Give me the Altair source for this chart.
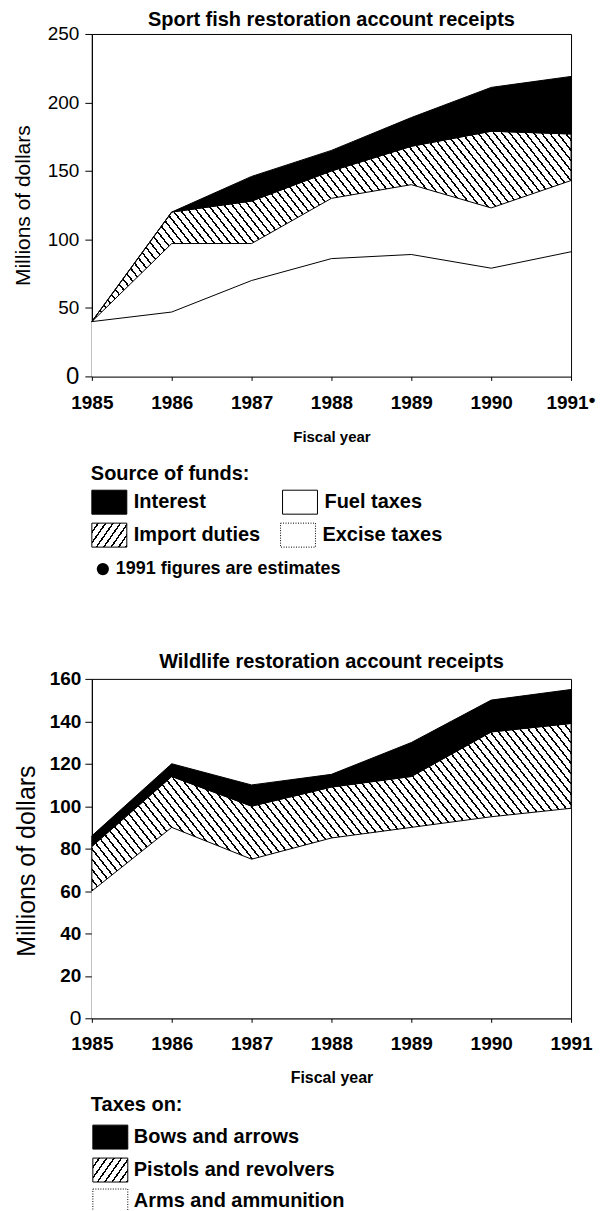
import math
import altair as alt
import pandas as pd

FONT = "Liberation Sans"

# ---------------- data (millions of dollars) ----------------
years = [1985, 1986, 1987, 1988, 1989, 1990, 1991]

# Sport fish restoration account receipts (stack order bottom -> top)
sf_series = ["Excise taxes", "Fuel taxes", "Import duties", "Interest"]
sf_excise = [40, 47, 70, 86, 89, 79, 91]
sf_fuel = [0, 50, 27, 44, 51, 44, 52]
sf_import = [0, 23, 31, 20, 28, 56, 34]
sf_interest = [0, 0, 18, 15, 21, 32, 42]
sf_ticks = [0, 50, 100, 150, 200, 250]

# Wildlife restoration account receipts (stack order bottom -> top)
wl_series = ["Arms and ammunition", "Pistols and revolvers", "Bows and arrows"]
wl_arms = [60, 90, 75, 85, 90, 95, 99]
wl_pistols = [21, 24, 25, 24, 24, 40, 40]
wl_bows = [5, 6, 10, 6, 16, 15, 16]
wl_ticks = [0, 20, 40, 60, 80, 100, 120, 140, 160]

sf_title = "Sport fish restoration account receipts"
wl_title = "Wildlife restoration account receipts"
y_title = "Millions of dollars"
x_title = "Fiscal year"

sf_legend_title = "Source of funds:"
sf_legend_labels = ["Interest", "Fuel taxes", "Import duties", "Excise taxes"]
sf_legend_kinds = ["solid", "open", "hatch", "dotted"]
sf_note = "1991 figures are estimates"

wl_legend_title = "Taxes on:"
wl_legend_labels = ["Bows and arrows", "Pistols and revolvers", "Arms and ammunition"]
wl_legend_kinds = ["solid", "hatch", "dotted"]

# ---------------- helpers ----------------
W = 480
H1 = 343
H2 = 340


def stack(names, lists):
    rows = []
    base = [0] * len(years)
    for name, vals in zip(names, lists):
        for i, yr in enumerate(years):
            rows.append(dict(series=name, year=yr, base=base[i], top=base[i] + vals[i]))
        base = [b + v for b, v in zip(base, vals)]
    return pd.DataFrame(rows)


def hatch_fill(w, h, angle, spacing, thick):
    th = math.radians(angle)
    dx, dy = math.cos(th), math.sin(th)
    nx, ny = -dy, dx
    corners = [(0.0, 0.0), (1.0, 0.0), (0.0, 1.0), (1.0, 1.0)]
    s = [u * w * nx + v * h * ny for u, v in corners]
    smin, smax = min(s), max(s)
    R = smax - smin
    a, b = w * nx / R, h * ny / R
    g2 = a * a + b * b
    gx, gy = a / g2, b / g2
    u0, v0 = corners[s.index(smin)]
    period = spacing * abs(math.sin(th))
    n = max(1, round(R / period))
    f = min(0.9, thick / period)
    stops = []
    for k in range(n):
        o0 = round(k / n, 5)
        o1 = round((k + 1 - f) / n, 5)
        o2 = round((k + 1) / n, 5)
        stops += [
            {"offset": o0, "color": "white"},
            {"offset": o1, "color": "white"},
            {"offset": o1, "color": "black"},
            {"offset": o2, "color": "black"},
        ]
    return {"gradient": "linear", "x1": u0, "y1": v0, "x2": u0 + gx, "y2": v0 + gy,
            "stops": stops}


def xenc(fs, lpad, tpad, last_shift=0):
    return alt.X(
        "year:Q",
        scale=alt.Scale(domain=[1985, 1991], nice=False, zero=False),
        axis=alt.Axis(values=years, format="d", title=x_title, labelFlush=False,
                      labelFontSize=19, labelFontWeight="bold", tickSize=4,
                      labelOffset={"condition": {"test": "datum.value === 1991", "value": last_shift},
                                   "value": 0},
                      labelPadding=lpad, titleFontSize=fs, titleFontWeight="bold",
                      titlePadding=tpad, labelFont=FONT, titleFont=FONT),
    )


# ---------------- top chart ----------------
sf = stack(sf_series, [sf_excise, sf_fuel, sf_import, sf_interest])
x_top = xenc(15, 13, 17, last_shift=-4)
y_top = alt.Y(
    "top:Q",
    scale=alt.Scale(domain=[0, 250], nice=False),
    axis=alt.Axis(values=sf_ticks, title=y_title, tickSize=7, labelPadding=6,
                  labelFontSize={"condition": {"test": "datum.value === 0", "value": 24}, "value": 19},
                  labelFontWeight="normal", titleFontSize=21, titleFontWeight="normal",
                  titlePadding=14, labelFont=FONT, titleFont=FONT),
)
imp = sf[sf.series == "Import duties"]
imp_h = (imp.top.max() - imp.base.min()) * H1 / 250
sf_hatch = hatch_fill(W, imp_h, 52, 8, 1.5)

base_top = alt.Chart(sf).encode(x=x_top, y=y_top, y2="base:Q")
top_layers = [
    base_top.transform_filter(alt.datum.series == "Excise taxes").mark_area(fill="white"),
    base_top.transform_filter(alt.datum.series == "Fuel taxes").mark_area(fill="white"),
    base_top.transform_filter(alt.datum.series == "Import duties").mark_area(
        fill=sf_hatch, stroke="black", strokeWidth=1),
    base_top.transform_filter(alt.datum.series == "Interest").mark_area(
        fill="black", stroke="black", strokeWidth=1),
    alt.Chart(sf).transform_filter(alt.datum.series == "Excise taxes").mark_line(
        color="black", strokeWidth=1).encode(x=x_top, y=y_top),
    alt.Chart(pd.DataFrame({"year": [1991], "top": [0]})).mark_text(
        text="•", dx=21, dy=24, fontSize=19, fontWeight="bold", font=FONT,
        color="black").encode(x=x_top, y=y_top),
]
top_chart = alt.layer(*top_layers).properties(
    width=W, height=H1,
    title=alt.TitleParams(sf_title, fontSize=20, fontWeight="bold", font=FONT, offset=-5),
)

# ---------------- bottom chart ----------------
wl = stack(wl_series, [wl_arms, wl_pistols, wl_bows])
x_bot = xenc(16, 12, 16)
y_bot = alt.Y(
    "top:Q",
    scale=alt.Scale(domain=[0, 160], nice=False),
    axis=alt.Axis(values=wl_ticks, title=y_title, tickSize=7, labelPadding=4,
                  labelFontSize={"condition": {"test": "datum.value === 0", "value": 21}, "value": 19},
                  labelFontWeight={"condition": {"test": "datum.value === 0", "value": "normal"}, "value": "bold"},
                  titleFontSize=25, titleFontWeight="normal", titlePadding=10,
                  titleY=H2 / 2 + 12,
                  labelFont=FONT, titleFont=FONT),
)
pis = wl[wl.series == "Pistols and revolvers"]
pis_h = (pis.top.max() - pis.base.min()) * H2 / 160
wl_hatch = hatch_fill(W, pis_h, 52, 8, 1.5)

base_bot = alt.Chart(wl).encode(x=x_bot, y=y_bot, y2="base:Q")
bot_layers = [
    base_bot.transform_filter(alt.datum.series == "Arms and ammunition").mark_area(fill="white"),
    base_bot.transform_filter(alt.datum.series == "Pistols and revolvers").mark_area(
        fill=wl_hatch, stroke="black", strokeWidth=1),
    base_bot.transform_filter(alt.datum.series == "Bows and arrows").mark_area(
        fill="black", stroke="black", strokeWidth=1),
]
bot_chart = alt.layer(*bot_layers).properties(
    width=W, height=H2,
    title=alt.TitleParams(wl_title, fontSize=20, fontWeight="bold", font=FONT, offset=-2),
)

# ---------------- legends ----------------
SW_W, SW_H = 35, 24


def legend_view(title, title_y, labels, kinds, cols, rows, text_dx, height,
                note=None, note_y=None):
    sw = []
    for lab, kind, c, r in zip(labels, kinds, cols, rows):
        sw.append(dict(label=lab, kind=kind, x=c, x2=c + SW_W, y=r - SW_H / 2,
                       y2=r + SW_H / 2, tx=c + text_dx, ty=r))
    sdf = pd.DataFrame(sw)
    xsc = alt.Scale(domain=[0, W], nice=False)
    ysc = alt.Scale(domain=[height, 0], nice=False)
    layers = []
    styles = {
        "solid": dict(fill="black", stroke="black", strokeWidth=1),
        "open": dict(fill="white", stroke="black", strokeWidth=1),
        "hatch": dict(fill=hatch_fill(SW_W, SW_H, -55, 7, 1.4), stroke="black", strokeWidth=1),
        "dotted": dict(fill="white", stroke="black", strokeWidth=1, strokeDash=[1, 1.5]),
    }
    for kind in dict.fromkeys(kinds):
        layers.append(
            alt.Chart(sdf).transform_filter(alt.datum.kind == kind).mark_rect(**styles[kind])
            .encode(x=alt.X("x:Q", scale=xsc, axis=None), x2="x2:Q",
                    y=alt.Y("y:Q", scale=ysc, axis=None), y2="y2:Q"))
    layers.append(
        alt.Chart(sdf).mark_text(align="left", baseline="middle", fontSize=20,
                                 fontWeight="bold", font=FONT, color="black")
        .encode(x=alt.X("tx:Q", scale=xsc, axis=None),
                y=alt.Y("ty:Q", scale=ysc, axis=None), text="label:N"))
    tdf = pd.DataFrame({"tx": [-1], "ty": [title_y], "label": [title]})
    layers.append(
        alt.Chart(tdf).mark_text(align="left", baseline="middle", fontSize=20,
                                 fontWeight="bold", font=FONT, color="black")
        .encode(x=alt.X("tx:Q", scale=xsc, axis=None),
                y=alt.Y("ty:Q", scale=ysc, axis=None), text="label:N"))
    if note is not None:
        ndf = pd.DataFrame({"bx": [11], "tx": [24], "ty": [note_y], "label": [note]})
        layers.append(
            alt.Chart(ndf).mark_point(shape="circle", filled=True, size=150, color="black", opacity=1)
            .encode(x=alt.X("bx:Q", scale=xsc, axis=None),
                    y=alt.Y("ty:Q", scale=ysc, axis=None)))
        layers.append(
            alt.Chart(ndf).mark_text(align="left", baseline="middle", fontSize=18,
                                     fontWeight="bold", font=FONT, color="black")
            .encode(x=alt.X("tx:Q", scale=xsc, axis=None),
                    y=alt.Y("ty:Q", scale=ysc, axis=None), text="label:N"))
    return alt.layer(*layers).properties(
        width=W, height=height, view=alt.ViewBackground(stroke="transparent"))


top_legend = legend_view(sf_legend_title, 28, sf_legend_labels, sf_legend_kinds,
                         cols=[0, 191, 0, 189], rows=[56, 56, 89, 89], text_dx=42,
                         height=204, note=sf_note, note_y=123)
bot_legend = legend_view(wl_legend_title, 18, wl_legend_labels, wl_legend_kinds,
                         cols=[1, 1, 1], rows=[50, 83, 114], text_dx=41, height=118)

chart = alt.vconcat(top_chart, top_legend, bot_chart, bot_legend, spacing=0).properties(
    padding={"left": 3, "top": 0, "right": 0, "bottom": 0}
).configure_view(stroke="black", strokeWidth=1).configure_axis(
    domainColor="black", tickColor="black", labelColor="black", titleColor="black",
    grid=False, domainWidth=1, tickWidth=1,
).configure_title(color="black", anchor="middle")

chart.save("out.html", embed_options={"renderer": "svg", "actions": False})
